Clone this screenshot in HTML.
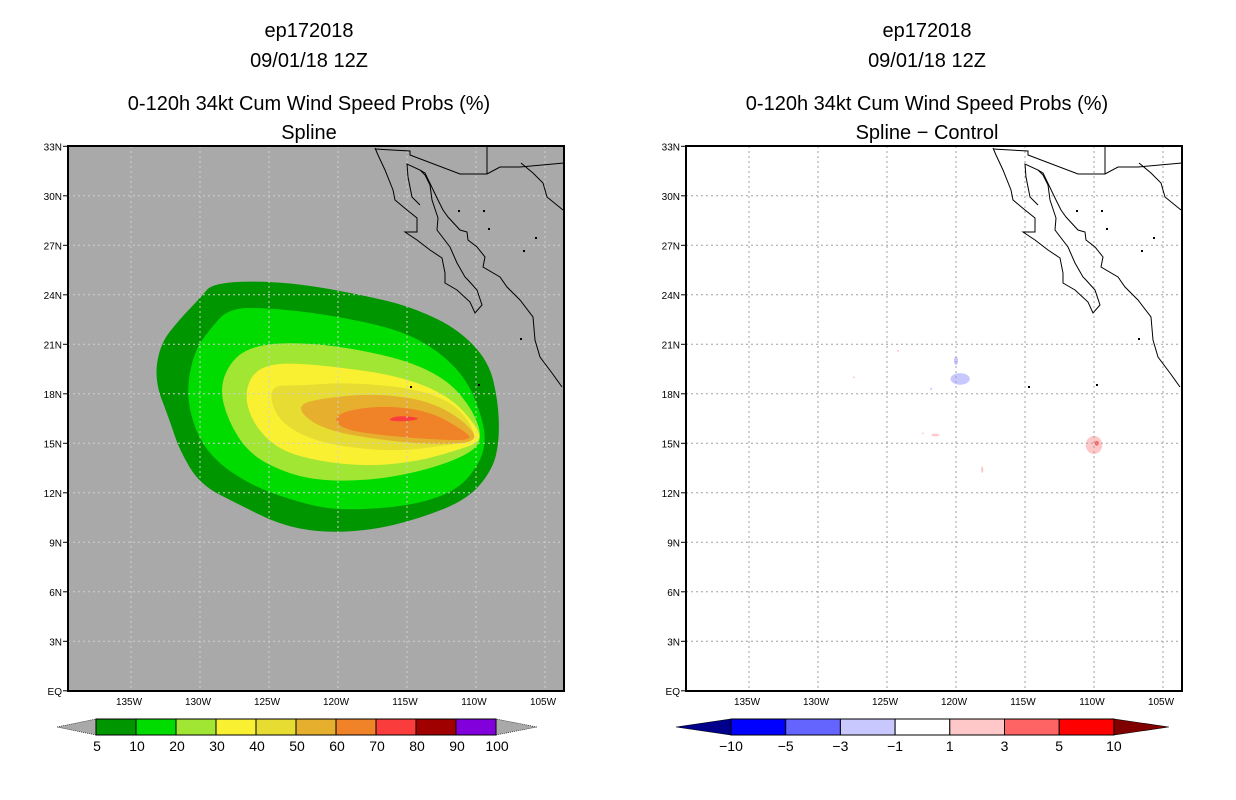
<!DOCTYPE html>
<html><head><meta charset="utf-8"><style>
html,body{margin:0;padding:0;background:#fff;}
svg{display:block;font-family:"Liberation Sans",sans-serif;}
</style></head><body>
<svg id="chart" width="1236" height="800" viewBox="0 0 1236 800">
<g id="titles" font-size="20" text-anchor="middle" fill="#000">
 <text x="309" y="37">ep172018</text>
 <text x="309" y="67">09/01/18 12Z</text>
 <text x="309" y="110">0-120h 34kt Cum Wind Speed Probs (%)</text>
 <text x="309" y="139">Spline</text>
 <text x="927" y="37">ep172018</text>
 <text x="927" y="67">09/01/18 12Z</text>
 <text x="927" y="110">0-120h 34kt Cum Wind Speed Probs (%)</text>
 <text x="927" y="139">Spline − Control</text>
</g>
<g id="left"></g>
<g id="right"></g>
</svg>
<script>
// ---- data ----
const lonTicks = [135,130,125,120,115,110,105];
const latTicks = [0,3,6,9,12,15,18,21,24,27,30,33];
const latLabels = ["EQ","3N","6N","9N","12N","15N","18N","21N","24N","27N","30N","33N"];
const probLevels = [5,10,20,30,40,50,60,70];
// contours: [lonW, latN]
const c5 = [[129.0,24.8],[123.5,24.8],[117.1,23.8],[114.2,23.1],[111.3,21.9],[109.1,20.0],[108.4,17.6],[108.3,15.2],[108.8,13.4],[110.6,11.6],[114.2,10.4],[117.8,9.7],[121.4,9.6],[124.3,10.1],[127.2,11.3],[130.0,12.5],[131.5,14.6],[132.2,16.4],[133.3,18.8],[132.9,21.0],[131.5,22.5],[130.0,23.8]];
const c10 = [[127.9,23.2],[125.0,23.2],[120.7,22.8],[115.6,21.9],[112.7,20.6],[110.6,18.8],[109.5,16.4],[109.3,15.0],[109.8,13.7],[111.3,12.2],[114.2,11.3],[117.8,11.0],[120.7,11.0],[123.5,11.6],[126.4,12.5],[129.0,14.0],[130.4,15.8],[131.0,18.2],[130.4,20.6],[129.3,21.9]];
const c20 = [[127.5,20.3],[125.6,21.0],[122.8,21.1],[119.2,20.8],[114.9,20.0],[112.0,18.8],[110.2,17.0],[109.5,15.2],[110.6,14.3],[113.5,13.4],[117.1,12.8],[120.7,12.7],[123.5,13.1],[126.4,14.3],[128.0,16.4],[128.6,18.5]];
const c30 = [[126.1,19.4],[124.3,19.9],[120.7,19.7],[115.6,19.1],[112.0,17.9],[110.0,16.1],[109.6,15.1],[111.3,14.6],[114.2,13.9],[117.8,13.6],[121.4,13.9],[124.3,14.6],[126.1,16.1],[126.8,17.9]];
const c40 = [[125.0,18.5],[122.8,18.5],[119.2,18.7],[114.2,18.3],[111.3,17.3],[109.7,15.2],[112.0,14.9],[115.6,14.5],[119.9,14.8],[122.8,15.5],[124.6,16.7]];
const c50 = [[123.2,17.3],[120.7,17.8],[117.1,18.0],[113.5,17.6],[110.9,16.4],[109.7,15.1],[112.7,14.9],[117.1,15.2],[121.4,15.9]];
const c60 = [[120.3,16.8],[117.1,17.3],[113.5,17.0],[110.9,15.8],[110.2,15.2],[112.7,15.2],[117.1,15.5],[119.9,15.9]];
const c70 = [[116.5,16.4],[115.6,16.7],[113.8,16.5],[115.3,16.3]];
const probContours = [c5,c10,c20,c30,c40,c50,c60,c70];
const probColors = ["#009600","#00dc00","#a0e632","#faf032","#e6dc32","#e6af2d","#f08228","#fa3c3c","#a00000","#8200dc"];
// difference blobs: [lonW, latN, value, rxDeg, ryDeg]
const diffBlobs = [[119.7,18.9,-2,0.7,0.35],[120.0,20.0,-2,0.15,0.25],[110.0,14.9,2,0.6,0.55],[109.8,15.0,4,0.15,0.15],[121.5,15.5,2,0.3,0.08],[118.1,13.4,2,0.08,0.2],[121.8,18.3,-2,0.07,0.07],[124.2,20.6,2,0.08,0.06],[127.4,19.0,2,0.08,0.05],[122.4,15.6,2,0.08,0.05]];
const diffLabels = ["-10","-5","-3","-1","1","3","5","10"];
const diffColors = ["#0000ff","#6464ff","#c8c8ff","#ffffff","#ffc8c8","#ff6464","#ff0000"];

// ---- axes ----
function xOf(lon){return 131+(135-lon)*13.8;}
function yOf(lat){return 690.8-lat*16.5;}
const NS="http://www.w3.org/2000/svg";
function mk(tag,attrs,parent){const e=document.createElementNS(NS,tag);for(const k in attrs)e.setAttribute(k,attrs[k]);parent.appendChild(e);return e;}
function smoothPath(pts,dx){
  const p=pts.map(q=>[xOf(q[0])+dx,yOf(q[1])]);const n=p.length;let d="";
  for(let i=0;i<n;i++){const a=p[i],b=p[(i+1)%n];const m=[(a[0]+b[0])/2,(a[1]+b[1])/2];
    if(i===0){const z=p[n-1];d+="M"+((z[0]+a[0])/2)+","+((z[1]+a[1])/2);}
    d+=" Q"+a[0]+","+a[1]+" "+m[0]+","+m[1];}
  return d+"Z";
}
const coastA="M375,148 L378,155 L385,170 L393,190 L395,200 L407,210 L417,218 L417,232 L405,232 L417,240 L430,250 L442,258 L445,273 L445,283 L457,290 L470,302 L475,313 L482,305 L477,290 L468,280 L465,277 L457,263 L450,247 L437,230 L438,218 L432,200 L430,185 L425,175 L420,170 L407,164 L408,177 L412,197 L420,205";
const coastB="M420,170 L425,173 L438,200 L443,210 L448,217 L460,230 L467,232 L468,240 L477,247 L485,257 L483,267 L500,277 L507,287 L520,300 L533,317 L535,340 L540,357 L552,373 L562,387";
const border="M375,149 L410,151 L410,155 L460,174 L487,174 L500,167 L520,167 L564,163 M487,146 L487,174 M521,163 L533,173 L543,183 L547,197 L563,210";
const islands=[[483,210],[488,228],[535,237],[523,250],[478,384],[410,386],[520,338],[458,210]];

function panel(g,dx,gray,pre){
  mk("rect",{x:68+dx,y:146,width:496,height:545,fill:gray?"#a9a9a9":"#fff"},g);
  const clip=mk("clipPath",{id:"clip"+pre},g);mk("rect",{x:68+dx,y:146,width:496,height:545},clip);
  const inner=mk("g",{"clip-path":"url(#clip"+pre+")"},g);
  if(gray){
    probContours.forEach((c,i)=>{const p=mk("path",{d:smoothPath(c,dx),fill:probColors[i]},inner);
      
      });
  } else {
    diffBlobs.forEach((b,i)=>{const v=b[2];const col=v<=-1?(v<=-3?diffColors[1]:diffColors[2]):(v>=3?diffColors[5]:diffColors[4]);
      const e=mk("ellipse",{cx:xOf(b[0])+dx,cy:yOf(b[1]),rx:b[3]*13.8,ry:b[4]*16.5,fill:col},inner);
      
      });
  }
  const gc=gray?"#d0d0d0":"#a0a0a0";
  lonTicks.forEach(l=>{const x=xOf(l)+dx;const ln=mk("line",{x1:x,x2:x,y1:146,y2:691,stroke:gc,"stroke-dasharray":"2,3","stroke-width":1},inner);
    
    
    const t=mk("text",{x:x-2,y:705,"font-size":10,"text-anchor":"middle"},g);t.textContent=l+"W";
    
    });
  latTicks.forEach((l,i)=>{const y=yOf(l);
    if(l>0&&l<33){const ln=mk("line",{x1:68+dx,x2:564+dx,y1:y,y2:y,stroke:gc,"stroke-dasharray":"2,3","stroke-width":1},inner);
      
      }
    mk("line",{x1:63+dx,x2:68+dx,y1:y,y2:y,stroke:"#000"},g);
    const t=mk("text",{x:62+dx,y:y+4,"font-size":10,"text-anchor":"end"},g);t.textContent=latLabels[i];
    
    });
  const cg=mk("g",{transform:"translate("+dx+",0)",fill:"none",stroke:"#000","stroke-width":1},inner);
  
  
  mk("path",{d:coastA},cg);mk("path",{d:coastB},cg);mk("path",{d:border},cg);
  islands.forEach(p=>mk("rect",{x:p[0],y:p[1],width:2,height:2,fill:"#000",stroke:"none"},cg));
  const fr=mk("rect",{x:68+dx,y:146,width:496,height:545,fill:"none",stroke:"#000","stroke-width":2},g);
  
  
}
const L=document.getElementById("left"),R=document.getElementById("right");
panel(L,0,true,"left-");panel(R,618,false,"right-");

// colorbar left
const cbL=mk("g",{},L);


mk("polygon",{points:"57,727 96,719 96,735",fill:"#a9a9a9",stroke:"#000","stroke-dasharray":"1,1","stroke-width":0.6},cbL);
mk("polygon",{points:"537,727 496,719 496,735",fill:"#a9a9a9",stroke:"#000","stroke-dasharray":"1,1","stroke-width":0.6},cbL);
const cbLabels=[5,10,20,30,40,50,60,70,80,90,100];
probColors.forEach((c,i)=>{const r=mk("rect",{x:96+i*40,y:719,width:40,height:16,fill:c,stroke:"#000","stroke-width":1},cbL);
  
  });
cbLabels.forEach((v,i)=>{const t=mk("text",{x:97+i*40,y:751,"font-size":14,"text-anchor":"middle"},cbL);t.textContent=v;
  
  });
// colorbar right
const cbR=mk("g",{},R);


const bw=54.7,bx=731;
mk("polygon",{points:"676,727 731,719 731,735",fill:"#00008b",stroke:"#000","stroke-width":0.6},cbR);
mk("polygon",{points:(bx+7*bw+55)+",727 "+(bx+7*bw)+",719 "+(bx+7*bw)+",735",fill:"#800000",stroke:"#000","stroke-width":0.6},cbR);
diffColors.forEach((c,i)=>{const r=mk("rect",{x:bx+i*bw,y:719,width:bw,height:16,fill:c,stroke:"#000","stroke-width":1},cbR);
  
  });
diffLabels.forEach((v,i)=>{const t=mk("text",{x:bx+i*bw,y:751,"font-size":14,"text-anchor":"middle"},cbR);t.textContent=v.replace("-","−");
  
  });
</script>
</body></html>
